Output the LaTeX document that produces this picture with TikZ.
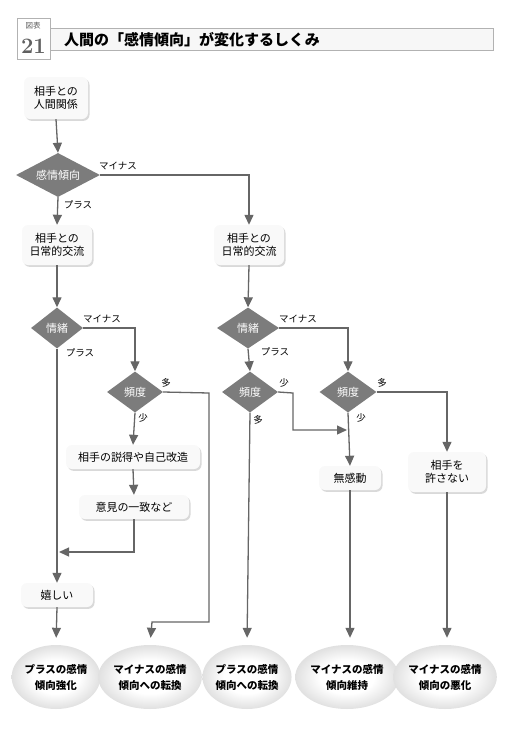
\documentclass[tikz,border=0pt]{standalone}
\usepackage{fontspec}
\newfontfamily\jp{Noto Sans CJK JP}
\usetikzlibrary{shapes.geometric,arrows.meta,shadows,calc}
\definecolor{ln}{HTML}{666666}
\definecolor{dm}{HTML}{7C7C7C}
\pgfdeclareradialshading{softell}{\pgfpoint{0bp}{0bp}}{color(0bp)=(white); color(13bp)=(white); color(25bp)=(gray!24); color(50bp)=(gray!24)}
\tikzset{
  box/.style={rounded corners=6pt, fill=gray!5, draw=none, font=\jp\fontsize{11}{13}\selectfont, align=center, inner sep=2pt,
    drop shadow={fill=gray!30, opacity=1, shadow xshift=1.5pt, shadow yshift=-1.8pt}},
  dia/.style={diamond, aspect=2, inner sep=0pt, fill=dm, text=white, font=\jp\fontsize{11}{13}\selectfont},
  res/.style={ellipse, inner sep=0pt, minimum width=84pt, minimum height=64pt, shading=softell, draw=none, align=center, font=\jp\bfseries\fontsize{10.5}{16}\selectfont},
  lab/.style={font=\jp\fontsize{9.5}{11}\selectfont, inner sep=0pt},
  con/.style={draw=ln, line width=1.3pt},
  arr/.style={con, -{Triangle[width=9pt,length=10pt]}},
}
\begin{document}
\begin{tikzpicture}[x=1pt,y=-1pt]
\useasboundingbox (0,0) rectangle (520,740);
% header
\draw[gray!60, line width=0.8pt, fill=gray!6] (50,28) rectangle (493,50);
\draw[gray!60, line width=1pt, fill=white] (17,18) rectangle (50,59);
\node (hd1) at (33,25.5) {\jp\fontsize{7.5}{8}\selectfont\color{gray!70!black}図表};
\node (hd2) at (33.5,46) {\fontsize{22}{22}\selectfont\bfseries\color{gray!75!black}21};
\node[anchor=west, inner sep=0pt] (title) at (64,39.5) {\jp\bfseries\fontsize{15}{16}\selectfont 人間の「感情傾向」が変化するしくみ};
% nodes
\node[box, minimum width=64pt, minimum height=42pt] (n1) at (56,98) {相手との\\人間関係};
\node[dia, minimum width=84pt, minimum height=44pt] (d1) at (58,175) {感情傾向};
\node[box, minimum width=70pt, minimum height=40pt] (b2L) at (57,245) {相手との\\日常的交流};
\node[box, minimum width=70pt, minimum height=40pt] (b2R) at (249,245) {相手との\\日常的交流};
\node[dia, minimum width=52pt, minimum height=41pt] (e1L) at (57,328) {情緒};
\node[dia, minimum width=62pt, minimum height=41pt] (e1R) at (248,328) {情緒};
\node[dia, minimum width=56pt, minimum height=41pt] (f1) at (135,392) {頻度};
\node[dia, minimum width=56pt, minimum height=41pt] (f2) at (250,392) {頻度};
\node[dia, minimum width=57pt, minimum height=41pt] (f3) at (348,392) {頻度};
\node[box, minimum width=134pt, minimum height=24pt] (b3) at (133,457) {相手の説得や自己改造};
\node[box, minimum width=110pt, minimum height=24pt] (b4) at (134,507) {意見の一致など};
\node[box, minimum width=72pt, minimum height=24pt] (b5) at (57,595) {嬉しい};
\node[box, minimum width=62pt, minimum height=24pt] (b6) at (350,478) {無感動};
\node[box, minimum width=78pt, minimum height=40pt] (b7) at (447,472) {相手を\\許さない};
\node[res] (r1) at (56,677) {プラスの感情\\傾向強化};
\node[res] (r2) at (150,677) {マイナスの感情\\傾向への転換};
\node[res] (r3) at (247,677) {プラスの感情\\傾向への転換};
\node[res] (r4) at (347,677) {マイナスの感情\\傾向維持};
\node[res] (r5) at (445,677) {マイナスの感情\\傾向の悪化};
% labels
\node[lab] (l1) at (118,166) {マイナス};
\node[lab] (l2) at (78,205) {プラス};
\node[lab] (l3) at (102,319) {マイナス};
\node[lab] (l4) at (80,353) {プラス};
\node[lab] (l5) at (166,383) {多};
\node[lab] (l6) at (143,418) {少};
\node[lab] (l7) at (298,319) {マイナス};
\node[lab] (l8) at (275,352) {プラス};
\node[lab] (l9) at (284,383) {少};
\node[lab] (l10) at (258,420) {多};
\node[lab] (l11) at (382,383) {多};
\node[lab] (l12) at (361,418) {少};
% coordinates
\coordinate (m1) at (59,552);
\coordinate (k1) at (209,393);
\coordinate (k2) at (209,622);
\coordinate (k3) at (152,622);
\coordinate (k4) at (293,393);
\coordinate (k5) at (347,430);
% connectors
\draw[arr] (n1.south) -- (d1.north);
\draw[arr] (d1.east) -| (b2R.north);
\draw[arr] (d1.south) -- (b2L.north);
\draw[arr] (b2L.south) -- (e1L.north);
\draw[arr] (b2R.south) -- (e1R.north);
\draw[arr] (e1L.east) -| (f1.north);
\draw[arr] (e1L.south) -- (b5.north);
\draw[arr] (f1.south) -- (b3.north);
\draw[arr] (b3.south) -- (b4.north);
\draw[arr] (b4.south) |- (m1);
\draw[arr, shorten >=7pt] (f1.east) -- (k1) -- (k2) -- (k3) -- (r2.north);
\draw[arr] (e1R.east) -| (f3.north);
\draw[arr] (e1R.south) -- (f2.north);
\draw[arr] (f2.east) -- (k4) |- (k5);
\draw[arr, shorten >=7pt] (f2.south) -- (r3.north);
\draw[arr] (f3.east) -| (b7.north);
\draw[arr] (f3.south) -- (b6.north);
\draw[arr, shorten >=7pt] (b6.south) -- (b6.south |- r4.north);
\draw[arr, shorten >=7pt] (b7.south) -- (b7.south |- r5.north);
\draw[arr, shorten >=7pt] (b5.south) -- (r1.north);
\end{tikzpicture}
\end{document}
